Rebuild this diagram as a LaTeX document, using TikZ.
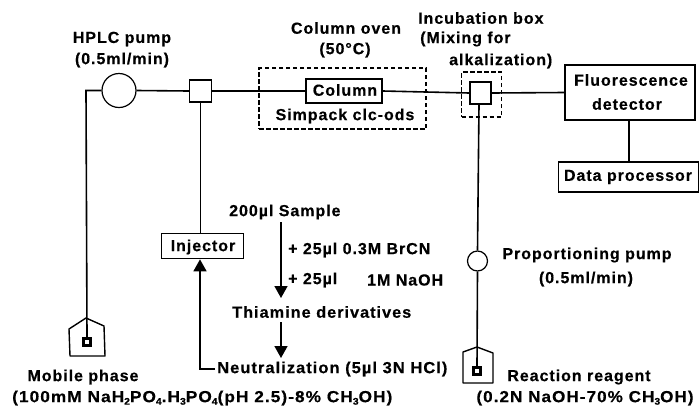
\documentclass[tikz,border=0pt]{standalone}
\usepackage{fontspec}
\usetikzlibrary{arrows.meta}
\setmainfont[LetterSpace=6,BoldFont={Liberation Sans Bold},BoldFeatures={FakeBold=0.4}]{Liberation Sans}
\newcommand{\lsub}[1]{\raisebox{-2.5pt}{\scalebox{0.6}{#1}}}
\begin{document}
\begin{tikzpicture}[x=1pt,y=-1pt,
  lbl/.style={inner sep=0pt,font=\fontsize{16}{18}\selectfont\bfseries,anchor=center},
  box/.style={draw,line width=1.7pt,inner sep=0pt,fill=white},
  pipe/.style={line width=1.6pt},
  dbox/.style={draw,line width=1.5pt,dash pattern=on 4.5pt off 2.5pt},
  flow/.style={line width=1.6pt,-{Triangle[length=12pt,width=13pt]}},
  bottle/.style={draw,line width=1.4pt,fill=white,line join=round},
  bottlecap/.style={draw=black,fill=white,line width=3pt,minimum size=7pt,inner sep=0pt}]
\useasboundingbox (0,0) rectangle (699,408);
% pumps and junctions
\node[draw,circle,line width=1.2pt,minimum size=34pt,inner sep=0pt] (pump) at (119,90.5) {};
\node[box,line width=1.3pt,minimum width=22pt,minimum height=22pt] (inj) at (200.5,91) {};
\node[box,minimum width=76pt,minimum height=24pt] (col) at (344,91) {};
\node[lbl] at (345,90) {Column};
\node[box,line width=1.3pt,minimum width=21pt,minimum height=22pt] (mix) at (480.5,93) {};
\node[box,minimum width=130pt,minimum height=55pt] (det) at (630,92.5) {};
\node[lbl] at (631,80) {Fluorescence};
\node[lbl] at (627,104) {detector};
\node[box,minimum width=140pt,minimum height=30pt] (dp) at (628.5,177) {};
\node[lbl] at (628,177) {Data processor};
\node[box,minimum width=82pt,minimum height=25pt] (injector) at (202.5,246) {};
\node[lbl] at (203,247) {Injector};
\node[draw,circle,line width=1.2pt,minimum size=20pt,inner sep=0pt] (ppump) at (477.5,261) {};
% dashed enclosures
\node[dbox,minimum width=167pt,minimum height=61pt,inner sep=0pt] (oven) at (342.5,98.5) {};
\node[dbox,minimum width=40pt,minimum height=45pt,inner sep=0pt] (incub) at (481.5,94.5) {};
% bottles
\draw[bottle] (69,329) -- (86,318) -- (104,326) -- (105,356) -- (70,356) -- cycle;
\draw[bottle] (463,352) -- (477,347) -- (493,353) -- (493,383) -- (463,383) -- cycle;
\node[bottlecap] (b1) at (87,342) {};
\node[bottlecap] (b2) at (477,371) {};
\coordinate (p1) at (86,90.5);
\coordinate (t1) at (281,222);
\coordinate (t2) at (281,298);
\coordinate (t3) at (281,322);
\coordinate (t4) at (281,358);
\coordinate (n1) at (215,369);
\coordinate (n2) at (200,369);
% connectors
\draw[pipe] (pump.west) -- (p1) -- (b1.north);
\draw[pipe] (pump.east) -- (inj.west);
\draw[pipe] (inj.east) -- (col.west);
\draw[pipe] (col.east) -- (mix.west);
\draw[pipe] (mix.east) -- (det.west);
\draw[pipe] (det.south -| 629,120) -- (dp.north -| 629,162);
\draw[pipe] (inj.south) -- (injector.north -| inj.south);
\draw[pipe] (mix.south -| 479,104) -- (ppump.north);
\draw[pipe] (ppump.south) -- (b2.north);
\draw[flow] (n1) -- (n2) -- (injector.south -| n2);
\draw[flow] (t1) -- (t2);
\draw[flow] (t3) -- (t4);
% labels
\node[lbl] at (122,39) {HPLC pump};
\node[lbl] at (122,60) {(0.5ml/min)};
\node[lbl] at (346,28) {Column oven};
\node[lbl] at (345,50) {(50°C)};
\node[lbl] at (345,116) {Simpack clc-ods};
\node[lbl,anchor=west] at (418,18) {Incubation box};
\node[lbl,anchor=west] at (420,39) {(Mixing for};
\node[lbl,anchor=west] at (449,61) {alkalization)};
\node[lbl,anchor=west] at (229,212) {200µl Sample};
\node[lbl,anchor=west] at (288,250) {+ 25µl 0.3M BrCN};
\node[lbl,anchor=west] at (288,280) {+ 25µl};
\node[lbl,anchor=west] at (367,280) {1M NaOH};
\node[lbl,anchor=west] at (232,312) {\scalebox{1.02}[1]{Thiamine derivatives}};
\node[lbl,anchor=west] at (217,369) {\scalebox{1.035}[1]{Neutralization (5µl 3N HCl)}};
\node[lbl] at (83,377) {Mobile phase};
\node[lbl,anchor=west] at (12,398) {\scalebox{1.08}[1]{(100mM NaH\lsub{2}PO\lsub{4}.H\lsub{3}PO\lsub{4}(pH 2.5)-8\% CH\lsub{3}OH)}};
\node[lbl] at (587,255) {Proportioning pump};
\node[lbl] at (586,279) {(0.5ml/min)};
\node[lbl] at (579,377) {Reaction reagent};
\node[lbl] at (585,398) {\scalebox{1.07}[1]{(0.2N NaOH-70\% CH\lsub{3}OH)}};
\end{tikzpicture}
\end{document}
